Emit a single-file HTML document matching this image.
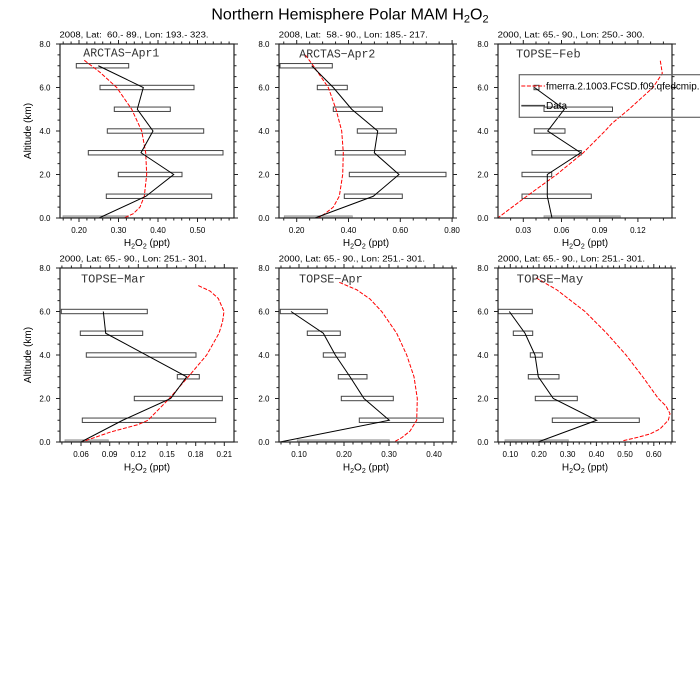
<!DOCTYPE html>
<html><head><meta charset="utf-8"><style>
html,body{margin:0;padding:0;background:#fff}
svg{display:block}
text{font-family:"Liberation Sans",sans-serif;fill:#000}
.t{font-size:8px}
.lab{font-family:"Liberation Mono",monospace;font-size:11.5px;fill:#333}
.bar{fill:none;stroke:#444;stroke-width:1}
.gbar{fill:#bbb;stroke:#999;stroke-width:0.8}
.red{fill:none;stroke:#f00;stroke-width:1;stroke-dasharray:4 1.6}
.blk{fill:none;stroke:#000;stroke-width:1}
.frm{fill:none;stroke:#222;stroke-width:1.2}
.tk{fill:none;stroke:#222;stroke-width:1}
</style></head><body>
<svg width="700" height="700" viewBox="0 0 700 700" xmlns="http://www.w3.org/2000/svg" xmlns:xlink="http://www.w3.org/1999/xlink">
<defs>
<path id="yt" d="M-4 0H0M-4 43.5H0M-4 87H0M-4 130.5H0M-4 174H0M-2.5 10.875H0M-2.5 21.75H0M-2.5 32.625H0M-2.5 54.375H0M-2.5 65.25H0M-2.5 76.125H0M-2.5 97.875H0M-2.5 108.75H0M-2.5 119.625H0M-2.5 141.375H0M-2.5 152.25H0M-2.5 163.125H0" class="tk"/>
<path id="x1" class="tk" d="M79 0v4M118.5 0v4M158 0v4M197.5 0v4M63.2 0v2.5M71.1 0v2.5M86.9 0v2.5M94.8 0v2.5M102.7 0v2.5M110.6 0v2.5M126.4 0v2.5M134.3 0v2.5M142.2 0v2.5M150.1 0v2.5M165.9 0v2.5M173.8 0v2.5M181.7 0v2.5M189.6 0v2.5M205.4 0v2.5M213.3 0v2.5M221.2 0v2.5M229.1 0v2.5"/>
<path id="x2" class="tk" d="M296.7 0v4M348.5 0v4M400.3 0v4M452.1 0v4M283.75 0v2.5M309.65 0v2.5M322.6 0v2.5M335.55 0v2.5M361.45 0v2.5M374.4 0v2.5M387.35 0v2.5M413.25 0v2.5M426.2 0v2.5M439.15 0v2.5"/>
<path id="x3" class="tk" d="M523.3 0v4M561.5 0v4M599.7 0v4M637.9 0v4M510.6 0v2.5M536 0v2.5M548.8 0v2.5M574.2 0v2.5M587 0v2.5M612.4 0v2.5M625.2 0v2.5M650.6 0v2.5M663.4 0v2.5"/>
<path id="x4" class="tk" d="M81 0v4M109.7 0v4M138.3 0v4M167 0v4M195.7 0v4M224.3 0v4M61.9 0v2.5M71.4 0v2.5M90.6 0v2.5M100.1 0v2.5M119.2 0v2.5M128.8 0v2.5M147.9 0v2.5M157.5 0v2.5M176.6 0v2.5M186.1 0v2.5M205.2 0v2.5M214.8 0v2.5"/>
<path id="x5" class="tk" d="M299 0v4M344 0v4M389 0v4M434 0v4M281 0v2.5M290 0v2.5M308 0v2.5M317 0v2.5M326 0v2.5M335 0v2.5M353 0v2.5M362 0v2.5M371 0v2.5M380 0v2.5M398 0v2.5M407 0v2.5M416 0v2.5M425 0v2.5M443 0v2.5M452 0v2.5"/>
<path id="x6" class="tk" d="M510.3 0v4M539 0v4M567.7 0v4M596.4 0v4M625.1 0v4M653.8 0v4M498.8 0v2.5M504.6 0v2.5M516 0v2.5M521.8 0v2.5M527.5 0v2.5M533.3 0v2.5M544.7 0v2.5M550.5 0v2.5M556.2 0v2.5M562 0v2.5M573.4 0v2.5M579.2 0v2.5M584.9 0v2.5M590.7 0v2.5M602.1 0v2.5M607.9 0v2.5M613.6 0v2.5M619.4 0v2.5M630.8 0v2.5M636.6 0v2.5M642.3 0v2.5M648.1 0v2.5M659.5 0v2.5M665.3 0v2.5M671 0v2.5"/>
<clipPath id="c1"><rect x="60" y="44" width="174" height="174"/></clipPath>
<clipPath id="c2"><rect x="279" y="44" width="174" height="174"/></clipPath>
<clipPath id="c3"><rect x="498" y="44" width="174" height="174"/></clipPath>
<clipPath id="c4"><rect x="60" y="268" width="174" height="174"/></clipPath>
<clipPath id="c5"><rect x="279" y="268" width="174" height="174"/></clipPath>
<clipPath id="c6"><rect x="498" y="268" width="174" height="174"/></clipPath>
</defs>

<text x="350" y="19.5" font-size="16" text-anchor="middle">Northern Hemisphere Polar MAM H<tspan font-size="11" dy="3">2</tspan><tspan dy="-3">O</tspan><tspan font-size="11" dy="3">2</tspan></text>

<!-- PANEL 1 -->
<text x="59.5" y="37.5" font-size="8.5" textLength="149" lengthAdjust="spacingAndGlyphs" style="white-space:pre">2008, Lat:  60.- 89., Lon: 193.- 323.</text>
<g clip-path="url(#c1)">
<rect class="bar" x="76.3" y="63.55" width="52.4" height="4.4"/>
<rect class="bar" x="100" y="85.3" width="94" height="4.4"/>
<rect class="bar" x="114.3" y="107.05" width="56" height="4.4"/>
<rect class="bar" x="107.3" y="128.8" width="96.4" height="4.4"/>
<rect class="bar" x="88.3" y="150.55" width="134.7" height="4.4"/>
<rect class="bar" x="118.3" y="172.3" width="63.7" height="4.4"/>
<rect class="bar" x="106.3" y="194.05" width="105.4" height="4.4"/>
<rect class="gbar" x="63" y="215.8" width="65.3" height="4.4"/>
<polyline class="red" points="84.3,60.3 100,72.3 116.7,87.5 131.7,109.25 141.7,131 145.7,152.75 146.7,174.5 144.3,196.25 140,207.1 133.3,213.65 124,218"/>
<polyline class="blk" points="98.3,65.75 143.3,87.5 137.3,109.25 153,131 141,152.75 173.7,174.5 146,196.25 99,218"/>
</g>
<text class="lab" x="83.3" y="56.7" textLength="76" lengthAdjust="spacingAndGlyphs">ARCTAS−Apr1</text>
<rect class="frm" x="60" y="44" width="174" height="174"/>
<use xlink:href="#yt" transform="translate(60,44)"/>
<use xlink:href="#yt" transform="translate(234,44) scale(-1,1)"/>
<use xlink:href="#x1" transform="translate(0,218)"/>
<use xlink:href="#x1" transform="translate(0,44) scale(1,-1)"/>
<g class="t" text-anchor="end">
<text x="50.5" y="221">0.0</text><text x="50.5" y="177.5">2.0</text><text x="50.5" y="134">4.0</text><text x="50.5" y="90.5">6.0</text><text x="50.5" y="47">8.0</text>
</g>
<g class="t" text-anchor="middle">
<text x="79" y="233">0.20</text><text x="118.5" y="233">0.30</text><text x="158" y="233">0.40</text><text x="197.5" y="233">0.50</text>
</g>
<text x="147" y="246" font-size="10" text-anchor="middle">H<tspan font-size="7" dy="2.5">2</tspan><tspan dy="-2.5">O</tspan><tspan font-size="7" dy="2.5">2</tspan><tspan dy="-2.5"> (ppt)</tspan></text>
<text transform="translate(31,131) rotate(-90)" font-size="10" text-anchor="middle">Altitude (km)</text>

<!-- PANEL 2 -->
<text x="278.8" y="37.5" font-size="8.5" textLength="149" lengthAdjust="spacingAndGlyphs" style="white-space:pre">2008, Lat:  58.- 90., Lon: 185.- 217.</text>
<g clip-path="url(#c2)">
<rect class="bar" x="280" y="63.55" width="52.3" height="4.4"/>
<rect class="bar" x="317.3" y="85.3" width="30" height="4.4"/>
<rect class="bar" x="333.3" y="107.05" width="49" height="4.4"/>
<rect class="bar" x="357.3" y="128.8" width="39" height="4.4"/>
<rect class="bar" x="335.3" y="150.55" width="70" height="4.4"/>
<rect class="bar" x="349.3" y="172.3" width="96.7" height="4.4"/>
<rect class="bar" x="344.3" y="194.05" width="58" height="4.4"/>
<rect class="gbar" x="284.3" y="215.8" width="68" height="4.4"/>
<polyline class="red" points="305.3,54.9 313.3,65.75 328.3,87.5 336,109.25 341.7,131 343.3,152.75 342.7,174.5 339.3,196.25 333.3,207.1 325,213.65 318.3,218"/>
<polyline class="blk" points="311.7,65.75 333.3,87.5 351.7,109.25 377.7,131 374.3,152.75 399,174.5 373.3,196.25 315,218"/>
</g>
<text class="lab" x="299.3" y="57.5" textLength="76" lengthAdjust="spacingAndGlyphs">ARCTAS−Apr2</text>
<rect class="frm" x="279" y="44" width="174" height="174"/>
<use xlink:href="#yt" transform="translate(279,44)"/>
<use xlink:href="#yt" transform="translate(453,44) scale(-1,1)"/>
<use xlink:href="#x2" transform="translate(0,218)"/>
<use xlink:href="#x2" transform="translate(0,44) scale(1,-1)"/>
<g class="t" text-anchor="end">
<text x="269.5" y="221">0.0</text><text x="269.5" y="177.5">2.0</text><text x="269.5" y="134">4.0</text><text x="269.5" y="90.5">6.0</text><text x="269.5" y="47">8.0</text>
</g>
<g class="t" text-anchor="middle">
<text x="296.7" y="233">0.20</text><text x="348.5" y="233">0.40</text><text x="400.3" y="233">0.60</text><text x="452.1" y="233">0.80</text>
</g>
<text x="366" y="246" font-size="10" text-anchor="middle">H<tspan font-size="7" dy="2.5">2</tspan><tspan dy="-2.5">O</tspan><tspan font-size="7" dy="2.5">2</tspan><tspan dy="-2.5"> (ppt)</tspan></text>

<!-- PANEL 3 -->
<text x="497.7" y="37.5" font-size="8.5" textLength="147" lengthAdjust="spacingAndGlyphs">2000, Lat: 65.- 90., Lon: 250.- 300.</text>
<g clip-path="url(#c3)">
<rect class="bar" x="534" y="85.3" width="5" height="4.4"/>
<rect class="bar" x="544" y="107.05" width="68.5" height="4.4"/>
<rect class="bar" x="534.3" y="128.8" width="30.7" height="4.4"/>
<rect class="bar" x="532" y="150.55" width="49.3" height="4.4"/>
<rect class="bar" x="522" y="172.3" width="29.7" height="4.4"/>
<rect class="bar" x="522" y="194.05" width="69.3" height="4.4"/>
<rect class="gbar" x="544" y="215.8" width="76.3" height="4.4"/>
<polyline class="red" points="660.3,60.75 662.3,73.4 653,87.5 629,109.25 612,123.4 605,131 583.3,152.75 556.7,174.5 526.7,196.25 497.7,218"/>
<polyline class="blk" points="534.5,87.5 564.3,109.25 547.7,131 580.7,152.75 547.3,174.5 547.3,196.25 552,218"/>
</g>
<text class="lab" x="516" y="57.5" textLength="64.7" lengthAdjust="spacingAndGlyphs">TOPSE−Feb</text>
<rect class="frm" x="498" y="44" width="174" height="174"/>
<use xlink:href="#yt" transform="translate(498,44)"/>
<use xlink:href="#yt" transform="translate(672,44) scale(-1,1)"/>
<use xlink:href="#x3" transform="translate(0,218)"/>
<use xlink:href="#x3" transform="translate(0,44) scale(1,-1)"/>
<g class="t" text-anchor="end">
<text x="488.5" y="221">0.0</text><text x="488.5" y="177.5">2.0</text><text x="488.5" y="134">4.0</text><text x="488.5" y="90.5">6.0</text><text x="488.5" y="47">8.0</text>
</g>
<g class="t" text-anchor="middle">
<text x="523.3" y="233">0.03</text><text x="561.5" y="233">0.06</text><text x="599.7" y="233">0.09</text><text x="637.9" y="233">0.12</text>
</g>
<text x="585" y="246" font-size="10" text-anchor="middle">H<tspan font-size="7" dy="2.5">2</tspan><tspan dy="-2.5">O</tspan><tspan font-size="7" dy="2.5">2</tspan><tspan dy="-2.5"> (ppt)</tspan></text>
<rect x="519.3" y="74.7" width="200" height="42.6" fill="none" stroke="#666" stroke-width="1.2"/>
<line x1="521.3" y1="86" x2="545" y2="86" class="red"/>
<line x1="521.3" y1="105.7" x2="545" y2="105.7" stroke="#444" stroke-width="1.6"/>
<text x="546" y="89.5" font-size="10" textLength="153.5" lengthAdjust="spacingAndGlyphs">fmerra.2.1003.FCSD.f09.qfedcmip.</text>
<text x="546" y="109" font-size="10">Data</text>

<!-- PANEL 4 -->
<text x="59.5" y="261.5" font-size="8.5" textLength="147.4" lengthAdjust="spacingAndGlyphs">2000, Lat: 65.- 90., Lon: 251.- 301.</text>
<g clip-path="url(#c4)">
<rect class="bar" x="61.3" y="309.3" width="86" height="4.4"/>
<rect class="bar" x="80.3" y="331.05" width="62.4" height="4.4"/>
<rect class="bar" x="86.3" y="352.8" width="109.7" height="4.4"/>
<rect class="bar" x="177.3" y="374.55" width="22" height="4.4"/>
<rect class="bar" x="134.3" y="396.3" width="88" height="4.4"/>
<rect class="bar" x="82.3" y="418.05" width="133.4" height="4.4"/>
<rect class="gbar" x="65" y="439.8" width="43.3" height="4.4"/>
<polyline class="red" points="198.3,285.6 210,291 218.3,298.45 224,311.5 222.5,322 219,333.25 206.7,355 188.3,376.75 169.3,398.5 148,420.25 138,424.6 110,432.2 81.7,442"/>
<polyline class="blk" points="103.3,311.5 105.7,333.25 186.7,376.75 170.7,398.5 122.7,420.25 81,442"/>
</g>
<text class="lab" x="81" y="282.3" textLength="64.7" lengthAdjust="spacingAndGlyphs">TOPSE−Mar</text>
<rect class="frm" x="60" y="268" width="174" height="174"/>
<use xlink:href="#yt" transform="translate(60,268)"/>
<use xlink:href="#yt" transform="translate(234,268) scale(-1,1)"/>
<use xlink:href="#x4" transform="translate(0,442)"/>
<use xlink:href="#x4" transform="translate(0,268) scale(1,-1)"/>
<g class="t" text-anchor="end">
<text x="50.5" y="445">0.0</text><text x="50.5" y="401.5">2.0</text><text x="50.5" y="358">4.0</text><text x="50.5" y="314.5">6.0</text><text x="50.5" y="271">8.0</text>
</g>
<g class="t" text-anchor="middle">
<text x="81" y="457">0.06</text><text x="109.7" y="457">0.09</text><text x="138.3" y="457">0.12</text><text x="167" y="457">0.15</text><text x="195.7" y="457">0.18</text><text x="224.3" y="457">0.21</text>
</g>
<text x="147" y="470.5" font-size="10" text-anchor="middle">H<tspan font-size="7" dy="2.5">2</tspan><tspan dy="-2.5">O</tspan><tspan font-size="7" dy="2.5">2</tspan><tspan dy="-2.5"> (ppt)</tspan></text>
<text transform="translate(31,355) rotate(-90)" font-size="10" text-anchor="middle">Altitude (km)</text>

<!-- PANEL 5 -->
<text x="278.8" y="261.5" font-size="8.5" textLength="146.2" lengthAdjust="spacingAndGlyphs">2000, Lat: 65.- 90., Lon: 251.- 301.</text>
<g clip-path="url(#c5)">
<rect class="bar" x="280.3" y="309.3" width="47" height="4.4"/>
<rect class="bar" x="307.3" y="331.05" width="33" height="4.4"/>
<rect class="bar" x="323.3" y="352.8" width="22" height="4.4"/>
<rect class="bar" x="338.3" y="374.55" width="28.7" height="4.4"/>
<rect class="bar" x="341.3" y="396.3" width="52" height="4.4"/>
<rect class="bar" x="359.3" y="418.05" width="84" height="4.4"/>
<rect class="gbar" x="297.3" y="439.8" width="92" height="4.4"/>
<polyline class="red" points="339.3,282.35 356.7,289.75 370,299 381.7,311.5 396.7,333.25 406.7,355 414,376.75 417.3,398.5 416.7,420.25 410,431.1 402,437.5 394,442"/>
<polyline class="blk" points="291,311.5 323.3,333.25 335.3,355 350,376.75 364,398.5 389.3,420.25 280,442"/>
</g>
<text class="lab" x="299" y="282.3" textLength="63.7" lengthAdjust="spacingAndGlyphs">TOPSE−Apr</text>
<rect class="frm" x="279" y="268" width="174" height="174"/>
<use xlink:href="#yt" transform="translate(279,268)"/>
<use xlink:href="#yt" transform="translate(453,268) scale(-1,1)"/>
<use xlink:href="#x5" transform="translate(0,442)"/>
<use xlink:href="#x5" transform="translate(0,268) scale(1,-1)"/>
<g class="t" text-anchor="end">
<text x="269.5" y="445">0.0</text><text x="269.5" y="401.5">2.0</text><text x="269.5" y="358">4.0</text><text x="269.5" y="314.5">6.0</text><text x="269.5" y="271">8.0</text>
</g>
<g class="t" text-anchor="middle">
<text x="299" y="457">0.10</text><text x="344" y="457">0.20</text><text x="389" y="457">0.30</text><text x="434" y="457">0.40</text>
</g>
<text x="366" y="470.5" font-size="10" text-anchor="middle">H<tspan font-size="7" dy="2.5">2</tspan><tspan dy="-2.5">O</tspan><tspan font-size="7" dy="2.5">2</tspan><tspan dy="-2.5"> (ppt)</tspan></text>

<!-- PANEL 6 -->
<text x="497.7" y="261.5" font-size="8.5" textLength="147.3" lengthAdjust="spacingAndGlyphs">2000, Lat: 65.- 90., Lon: 251.- 301.</text>
<g clip-path="url(#c6)">
<rect class="bar" x="498.3" y="309.3" width="34" height="4.4"/>
<rect class="bar" x="513.3" y="331.05" width="19.4" height="4.4"/>
<rect class="bar" x="530.3" y="352.8" width="12" height="4.4"/>
<rect class="bar" x="528.3" y="374.55" width="30.7" height="4.4"/>
<rect class="bar" x="535.3" y="396.3" width="42" height="4.4"/>
<rect class="bar" x="552.3" y="418.05" width="87" height="4.4"/>
<rect class="gbar" x="505" y="439.8" width="63.3" height="4.4"/>
<polyline class="red" points="536,277.8 556.7,289.75 585,311.5 606.7,333.25 626,355 642.7,376.75 658.3,398.5 666,406 670,413.7 668.3,420.25 660,428.95 650,434 637.7,437.3 623.3,440.7"/>
<polyline class="blk" points="509.3,311.5 525,333.25 535,355 538.3,376.75 553.3,398.5 596.7,420.25 538,442"/>
</g>
<text class="lab" x="516.7" y="282.3" textLength="66.6" lengthAdjust="spacingAndGlyphs">TOPSE−May</text>
<rect class="frm" x="498" y="268" width="174" height="174"/>
<use xlink:href="#yt" transform="translate(498,268)"/>
<use xlink:href="#yt" transform="translate(672,268) scale(-1,1)"/>
<use xlink:href="#x6" transform="translate(0,442)"/>
<use xlink:href="#x6" transform="translate(0,268) scale(1,-1)"/>
<g class="t" text-anchor="end">
<text x="488.5" y="445">0.0</text><text x="488.5" y="401.5">2.0</text><text x="488.5" y="358">4.0</text><text x="488.5" y="314.5">6.0</text><text x="488.5" y="271">8.0</text>
</g>
<g class="t" text-anchor="middle">
<text x="510.3" y="457">0.10</text><text x="539" y="457">0.20</text><text x="567.7" y="457">0.30</text><text x="596.4" y="457">0.40</text><text x="625.1" y="457">0.50</text><text x="653.8" y="457">0.60</text>
</g>
<text x="585" y="470.5" font-size="10" text-anchor="middle">H<tspan font-size="7" dy="2.5">2</tspan><tspan dy="-2.5">O</tspan><tspan font-size="7" dy="2.5">2</tspan><tspan dy="-2.5"> (ppt)</tspan></text>
</svg>
</body></html>
